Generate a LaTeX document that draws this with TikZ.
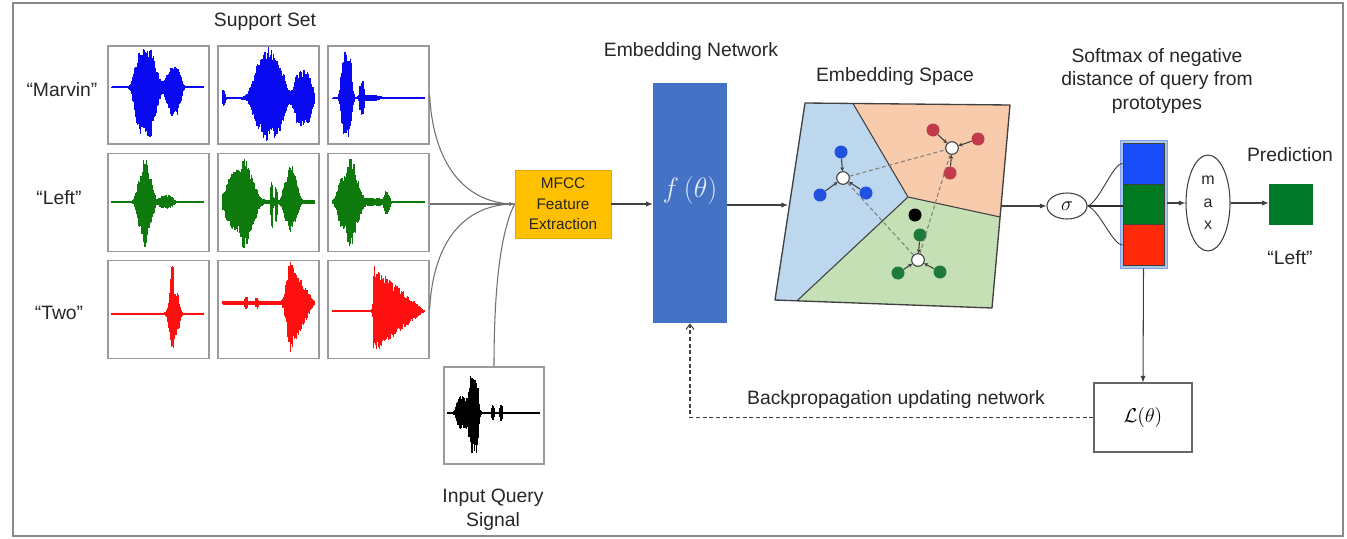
\RequirePackage{fix-cm}
\documentclass[tikz,border=0pt]{standalone}
\usepackage{fontspec}
\setmainfont{Liberation Sans}
\usetikzlibrary{arrows.meta,shapes.geometric,calc}

\definecolor{wblue}{HTML}{0A0AF0}
\definecolor{wgreen}{HTML}{0E7A0E}
\definecolor{wred}{HTML}{FF1010}
\definecolor{boxc}{HTML}{9A9A9A}
\definecolor{framec}{HTML}{8A8A8A}
\definecolor{linec}{HTML}{707070}
\definecolor{txtc}{HTML}{262626}
\definecolor{mfccc}{HTML}{FFC000}
\definecolor{mfccb}{HTML}{E0A800}
\definecolor{netc}{HTML}{4472C4}
\definecolor{ftext}{HTML}{E4EAF6}
\definecolor{regblue}{HTML}{BDD7EE}
\definecolor{regorange}{HTML}{F8CBAD}
\definecolor{reggreen}{HTML}{C5E0B4}
\definecolor{edgec}{HTML}{404040}
\definecolor{dotblue}{HTML}{2251E0}
\definecolor{dotred}{HTML}{C23B4B}
\definecolor{dotgreen}{HTML}{1D7A3A}
\definecolor{cellblue}{HTML}{1A4DFA}
\definecolor{cellgreen}{HTML}{007A20}
\definecolor{cellred}{HTML}{FF2A0A}
\definecolor{barrim}{HTML}{A9C8E8}
\definecolor{predc}{HTML}{007A2A}

% flat-topped burst envelope: t, centre, half width
\pgfmathdeclarefunction{bump}{3}{%
  \pgfmathparse{exp(-pow(min(abs((#1-#2)/#3),1.8),4))}%
}
% sharp attack, linear decay: t, peak, attack width, decay length
\pgfmathdeclarefunction{sk}{4}{%
  \pgfmathparse{(#1<#2)*exp(-2*pow(min(abs((#1-#2)/#3),1.8),2))+(#1>=#2)*max(0,1-(#1-#2)/#4)}%
}

% audio trace inside a box: left edge, baseline, colour, upper and lower envelopes in \t
\newcommand\wavetrace[5]{%
  \draw[#3, line width=0.9pt] (#1+4,#2) -- (#1+96,#2);
  \foreach \t in {4,4.6,...,96}{%
    \pgfmathsetmacro\wup{(#4)*(0.68+0.32*rnd)}%
    \pgfmathsetmacro\wdn{(#5)*(0.68+0.32*rnd)}%
    \draw[#3, line width=0.85pt] (#1+\t,#2-\wup) -- (#1+\t,#2+\wdn);
  }%
}

\begin{document}
\begin{tikzpicture}[x=0.75pt,y=-0.75pt,
  txt/.style={font=\fontsize{14.5}{17.5}\selectfont, text=txtc, align=center, inner sep=0pt},
  wbox/.style={draw=boxc, line width=0.9pt, minimum width=75.75pt, minimum height=73.5pt, inner sep=0pt},
  conn/.style={draw=linec, line width=0.8pt},
  arr/.style={draw=edgec, line width=0.8pt, -{Latex[length=5pt,width=4pt]}},
  dot/.style={circle, minimum size=9.75pt, inner sep=0pt},
  proto/.style={circle, draw=edgec, fill=white, line width=0.8pt, minimum size=9.5pt, inner sep=0pt},
  satlink/.style={draw=edgec, line width=0.8pt, -{Stealth[length=3pt,width=3pt]}},
  protodist/.style={draw=gray, line width=0.8pt, dash pattern=on 3pt off 2pt},
  cell/.style={draw=edgec, line width=0.6pt, minimum width=30.75pt, minimum height=30.75pt, inner sep=0pt}
]
\useasboundingbox (0,0) rectangle (1347,539);
\pgfmathsetseed{11}

% outer frame
\draw[framec, line width=1.5pt] (13,3) rectangle (1343,536);

% ---------------- support set ----------------
\node[txt] (supT) at (265,22) {Support Set};
\node[txt] (labM) at (62,90) {“Marvin”};
\node[txt] (labL) at (59,198) {“Left”};
\node[txt] (labT) at (59,313) {“Two”};

\node[wbox] (m1) at (158.5,95) {};
\node[wbox] (m2) at (268.5,95) {};
\node[wbox] (m3) at (378.5,95) {};
\node[wbox] (l1) at (158.5,202.5) {};
\node[wbox] (l2) at (268.5,202.5) {};
\node[wbox] (l3) at (378.5,202.5) {};
\node[wbox] (t1) at (158.5,309.5) {};
\node[wbox] (t2) at (268.5,309.5) {};
\node[wbox] (t3) at (378.5,309.5) {};

% "Marvin"
\wavetrace{108}{87}{wblue}{38*bump(\t,37.5,12)+20*bump(\t,66,8)+5*bump(\t,54,5)+0.5}{51*bump(\t,37.5,12)+29*bump(\t,66,8)+6*bump(\t,54,5)+0.5}
\wavetrace{219}{98}{wblue}{8*bump(\t,5,1.5)+1.5+42*bump(\t,50,17)+8*bump(\t,50,5)+27*bump(\t,84,10)}{8*bump(\t,5,1.5)+1.5+38*bump(\t,50,17)+4*bump(\t,50,5)+27*bump(\t,84,10)}
\wavetrace{329}{98}{wblue}{48*bump(\t,17.5,6)+15*bump(\t,33,2.5)+3*bump(\t,40,12)+0.5}{40*bump(\t,17.5,6)+15*bump(\t,33,2.5)+3*bump(\t,40,12)+0.5}
% "Left"
\wavetrace{108}{202}{wgreen}{28*bump(\t,37,9)+16*bump(\t,37,3)+6*bump(\t,58,8)+1}{29*bump(\t,37,9)+15*bump(\t,37,3)+6*bump(\t,58,8)+1}
\wavetrace{219}{202}{wgreen}{30*bump(\t,22,16)+14*bump(\t,26,4)+20*bump(\t,53,1.2)+16*bump(\t,57,1.2)+26*bump(\t,72,8)+10*bump(\t,72,3)+2.5}{30*bump(\t,22,16)+14*bump(\t,26,4)+24*bump(\t,53,1.2)+18*bump(\t,57,1.2)+20*bump(\t,72,8)+8*bump(\t,72,3)+2.5}
\wavetrace{329}{202}{wgreen}{28*bump(\t,20,12)+16*bump(\t,22,4)+8*bump(\t,58,3)+3*bump(\t,45,15)+1}{30*bump(\t,20,12)+14*bump(\t,22,4)+10*bump(\t,58,3)+3*bump(\t,45,15)+1}
% "Two"
\wavetrace{108}{314}{wred}{22*bump(\t,66,6)+28*bump(\t,64,2)+1.5}{22*bump(\t,66,6)+17*bump(\t,64,2)+1.5}
\wavetrace{219}{303}{wred}{40*sk(\t,71,6,24)+5*bump(\t,27,1.5)+4*bump(\t,38,1.5)+2}{49*sk(\t,71,6,24)+5*bump(\t,27,1.5)+4*bump(\t,38,1.5)+2}
\wavetrace{329}{311}{wred}{46*sk(\t,45,1.5,50)+1}{42*sk(\t,45,1.5,50)+1}

% ---------------- query ----------------
\node[wbox, minimum width=75pt, minimum height=72.75pt] (q) at (494,415.5) {};
\wavetrace{444}{413}{black}{16*bump(\t,19,7)+40*bump(\t,30,5)+8*bump(\t,49,1.5)+8*bump(\t,57,1.5)+1}{16*bump(\t,19,7)+42*bump(\t,30,5)+8*bump(\t,49,1.5)+8*bump(\t,57,1.5)+1}
\node[txt, font=\fontsize{14.5}{18}\selectfont] (qT) at (493,510) {Input Query\\Signal};

% ---------------- feature extraction and network ----------------
\node[fill=mfccc, draw=mfccb, line width=0.6pt, minimum width=72pt, minimum height=51pt, align=center,
      inner sep=0pt, font=\fontsize{11.5}{15.5}\selectfont, text=txtc] (mfcc) at (563,204) {MFCC\\Feature\\Extraction};

\node[txt] (netT) at (691,52) {Embedding Network};
\node[fill=netc, minimum width=55.5pt, minimum height=180pt, inner sep=0pt] (net) at (690,203) {};
\node[text=ftext, font=\fontsize{21}{21}\selectfont, inner sep=0pt] (ftxt) at (690,190) {$f\,(\theta)$};

\draw[conn] (m3.east) .. controls +(4,75) and +(-45,0) .. (mfcc.west);
\draw[conn] (t3.east) .. controls +(4,-75) and +(-45,0) .. (mfcc.west);
\draw[conn] (q.north) .. controls +(0,-100) and +(-10,20) .. (mfcc.west);
\draw[conn, -{Latex[length=4pt,width=3.5pt]}] (l3.east |- mfcc.west) -- (mfcc.west);

\draw[arr] (mfcc.east) -- (mfcc.east -| net.west);

% ---------------- embedding space ----------------
\node[txt] (espT) at (895,77) {Embedding Space};
\coordinate (tl) at (805,103);
\coordinate (tr) at (1010,105);
\coordinate (br) at (992,308);
\coordinate (bl) at (775,300);
\coordinate (top) at (853,103.5);
\coordinate (ctr) at (908,197);
\coordinate (rgt) at (1000,217);
\coordinate (bot) at (797,300.8);
\fill[regblue] (tl) -- (top) -- (ctr) -- (bot) -- (bl) -- cycle;
\fill[regorange] (top) -- (tr) -- (rgt) -- (ctr) -- cycle;
\fill[reggreen] (ctr) -- (rgt) -- (br) -- (bot) -- cycle;
\draw[edgec, line width=0.8pt] (top) -- (ctr) -- (rgt) (ctr) -- (bot);
\draw[edgec, line width=1pt, line join=round] (tl) -- (tr) -- (br) -- (bl) -- cycle;

\node[proto] (bp) at (843,178) {};
\node[dot, fill=dotblue] (b1) at (841,152) {};
\node[dot, fill=dotblue] (b2) at (820,195) {};
\node[dot, fill=dotblue] (b3) at (866,193) {};
\node[proto] (rp) at (952,148) {};
\node[dot, fill=dotred] (r1) at (933,130) {};
\node[dot, fill=dotred] (r2) at (978,139) {};
\node[dot, fill=dotred] (r3) at (950,173) {};
\node[proto] (gp) at (918,260) {};
\node[dot, fill=dotgreen] (g1) at (920,235) {};
\node[dot, fill=dotgreen] (g2) at (898,273) {};
\node[dot, fill=dotgreen] (g3) at (940,272) {};
\node[dot, fill=black] (qd) at (915,215) {};

\draw[protodist] (bp) -- (rp);
\draw[protodist] (bp) -- (gp);
\draw[protodist] (rp) -- (gp);
\foreach \s/\p in {b1/bp,b2/bp,b3/bp,r1/rp,r2/rp,r3/rp,g1/gp,g2/gp,g3/gp}
  \draw[satlink] (\s) -- (\p);

\coordinate (espL) at (788,205);
\coordinate (espR) at (1001,206);
\draw[arr] (net.east |- espL) -- (espL);

% ---------------- softmax, max, prediction ----------------
\node[txt] (smT) at (1157,81) {Softmax of negative\\distance of query from\\prototypes};
\node[ellipse, draw=edgec, line width=0.8pt, minimum width=30pt, minimum height=19.5pt, inner sep=0pt,
      font=\fontsize{15}{15}\selectfont] (sig) at (1067,206) {$\sigma$};
\draw[arr] (espR) -- (sig.west);

\node[fill=barrim, draw=barrim!80!blue, line width=0.5pt, minimum width=35.25pt, minimum height=96pt, inner sep=0pt] (bar) at (1143.5,204) {};
\node[cell, fill=cellblue] (cb) at (1143.5,163.5) {};
\node[cell, fill=cellgreen] (cg) at (1143.5,204.5) {};
\node[cell, fill=cellred] (cr) at (1143.5,245) {};

\draw[edgec!70!black, line width=1.6pt] (sig.east) -- (cg.west |- sig.east);
\draw[edgec, line width=0.7pt] (sig.east) .. controls +(12,-4) and +(-10,0) .. (cb.west);
\draw[edgec, line width=0.7pt] (sig.east) .. controls +(12,4) and +(-10,0) .. (cr.west);

\node[ellipse, draw=edgec, line width=0.8pt, minimum width=33pt, minimum height=72pt, inner sep=0pt, align=center,
      font=\fontsize{12}{17}\selectfont, text=txtc] (max) at (1208,203) {m\\a\\x};
\draw[arr] (bar.east |- max.west) -- (max.west);

\node[txt] (predT) at (1290,155) {Prediction};
\node[fill=predc, minimum width=33pt, minimum height=30.75pt, inner sep=0pt] (pred) at (1291,204.5) {};
\node[txt] (predL) at (1290,258) {“Left”};
\draw[arr] (max.east) -- (pred.west |- max.east);

% ---------------- loss and backpropagation ----------------
\node[draw=edgec!80, line width=0.8pt, minimum width=73.5pt, minimum height=51.75pt, inner sep=0pt,
      font=\fontsize{15}{15}\selectfont] (loss) at (1143,417.5) {$\mathcal{L}(\theta)$};
\draw[arr] (bar.south) -- (loss.north);
\draw[draw=edgec, line width=0.8pt, dash pattern=on 3pt off 2pt, -{Straight Barb[length=4pt,width=6pt]}]
  (loss.west) -| (net.south);
\node[txt] (bpT) at (896,399) {Backpropagation updating network};

\end{tikzpicture}
\end{document}
